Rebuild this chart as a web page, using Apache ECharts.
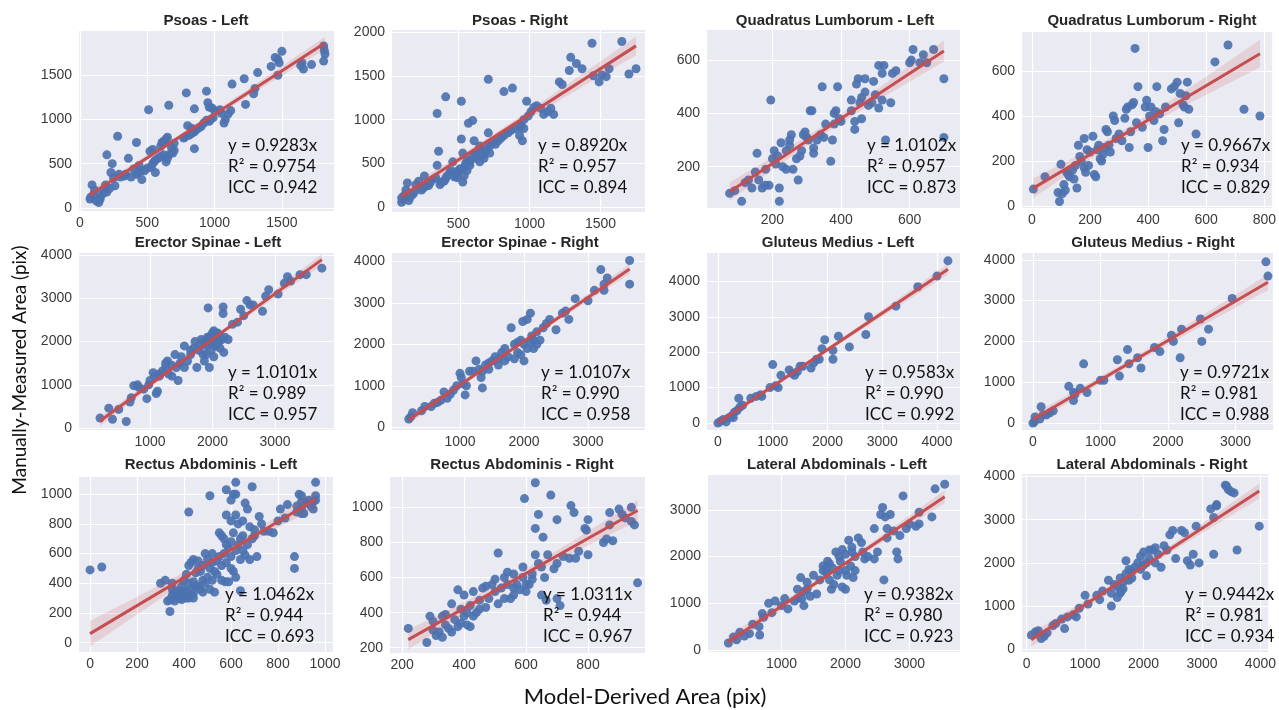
<!DOCTYPE html>
<html>
<head>
<meta charset="utf-8">
<script src="https://cdn.jsdelivr.net/npm/echarts@6/dist/echarts.min.js"></script>
<style>html,body{margin:0;padding:0;background:#fff;}#c{width:1279px;height:710px;}</style>
</head>
<body>
<div id="c"></div>
<script>
// ---------- titles and annotation text ----------
const panelTitles = ['Psoas - Left','Psoas - Right','Quadratus Lumborum - Left','Quadratus Lumborum - Right',
  'Erector Spinae - Left','Erector Spinae - Right','Gluteus Medius - Left','Gluteus Medius - Right',
  'Rectus Abdominis - Left','Rectus Abdominis - Right','Lateral Abdominals - Left','Lateral Abdominals - Right'];
const slopeTexts = ['y = 0.9283x','y = 0.8920x','y = 1.0102x','y = 0.9667x','y = 1.0101x','y = 1.0107x',
  'y = 0.9583x','y = 0.9721x','y = 1.0462x','y = 1.0311x','y = 0.9382x','y = 0.9442x'];
const r2Texts = ['R² = 0.9754','R² = 0.957','R² = 0.957','R² = 0.934','R² = 0.989','R² = 0.990',
  'R² = 0.990','R² = 0.981','R² = 0.944','R² = 0.944','R² = 0.980','R² = 0.981'];
const iccTexts = ['ICC = 0.942','ICC = 0.894','ICC = 0.873','ICC = 0.829','ICC = 0.957','ICC = 0.958',
  'ICC = 0.992','ICC = 0.988','ICC = 0.693','ICC = 0.967','ICC = 0.923','ICC = 0.934'];
const xAxisTitle = 'Model-Derived Area (pix)';
const yAxisTitle = 'Manually-Measured Area (pix)';

// ---------- tick values ----------
const xTicks = [[0,500,1000,1500],[500,1000,1500],[200,400,600],[0,200,400,600,800],
  [1000,2000,3000],[1000,2000,3000],[0,1000,2000,3000,4000],[0,1000,2000,3000],
  [0,200,400,600,800,1000],[200,400,600,800],[1000,2000,3000],[0,1000,2000,3000,4000]];
const yTicks = [[0,500,1000,1500],[0,500,1000,1500,2000],[200,400,600],[0,200,400,600],
  [0,1000,2000,3000,4000],[0,1000,2000,3000,4000],[0,1000,2000,3000,4000],[0,1000,2000,3000,4000],
  [0,200,400,600,800,1000],[200,400,600,800,1000],[0,1000,2000,3000],[0,1000,2000,3000,4000]];
const xLimits = [[-7,1887],[32,1813],[9,747],[-34,827],[-136,3944],[-62,3890],[-200,4420],[-163,3555],
  [-47,1034],[161,984],[-148,3789],[-79,4133]];
const yLimits = [[-35,2000],[-51,2021],[45,713],[-9,773],[-46,4051],[-65,4200],[-198,4802],[-170,4166],
  [-63,1116],[170,1173],[-43,3747],[-62,4058]];

// ---------- data (model-derived, manually-measured) ----------
const psoasLeft = [[1810,1830],[1815,1780],[1820,1740],[1810,1660],[1720,1620],[1650,1640],[1660,1570],[1640,1610],
 [1500,1770],[1470,1680],[1450,1700],[1480,1640],[1470,1500],[1420,1600],[1320,1530],[1300,1350],[1290,1290],
 [1220,1460],[1230,1170],[1130,1400],[1120,1100],[1100,1060],[1080,1000],[1070,960],[1050,1070],[1040,1110],
 [1000,1100],[980,1130],[960,1140],[950,1190],[940,1320],[990,1020],[970,1000],[960,980],[940,990],[920,960],
 [900,920],[880,900],[860,880],[850,860],[830,840],[810,820],[800,930],[790,1300],[850,1120],[850,670],[830,900],
 [780,800],[770,790],[700,730],[680,680],[660,1160],[650,800],[640,780],[630,760],[620,750],[610,740],[600,700],
 [700,650],[690,620],[660,600],[650,560],[640,520],[620,600],[600,580],[580,560],[560,540],[550,520],[540,500],
 [540,660],[520,640],[510,1110],[560,400],[530,460],[500,450],[480,420],[460,320],[450,420],[440,480],[430,400],
 [420,380],[420,740],[400,440],[380,350],[360,560],[340,380],[330,360],[300,350],[290,380],[280,810],[260,250],
 [250,340],[240,500],[230,400],[220,220],[200,600],[200,180],[190,260],[180,190],[170,160],[150,100],[140,60],
 [120,80],[110,200],[100,150],[90,260],[80,120],[75,100],[150,120]];
const psoasRight = [[1650,1890],[1440,1870],[1290,1710],[1330,1640],[1280,1560],[1370,1580],[1210,1430],[1230,1400],
 [1450,1500],[1490,1430],[1510,1510],[1540,1490],[1560,1580],[1700,1520],[1750,1580],[710,1460],[820,1320],
 [880,1360],[410,1260],[350,1070],[520,1210],[570,960],[600,990],[980,1210],[1050,1160],[1080,1130],[1100,1060],
 [1130,1090],[1150,1130],[1170,1060],[1030,1140],[1010,1090],[990,1040],[960,1000],[940,940],[930,920],[960,900],
 [930,820],[950,760],[900,900],[870,880],[850,850],[820,820],[800,790],[780,760],[760,720],[740,740],[720,700],
 [710,850],[700,670],[690,640],[670,600],[650,700],[640,650],[620,620],[610,760],[600,580],[580,520],[560,540],
 [550,500],[540,460],[530,620],[520,780],[510,440],[500,420],[490,400],[480,380],[470,350],[460,520],[450,420],
 [440,400],[420,360],[410,330],[400,300],[380,290],[370,260],[360,640],[350,480],[340,340],[320,320],[300,280],
 [290,250],[270,240],[260,360],[250,220],[240,200],[220,300],[200,260],[190,180],[180,150],[160,120],[150,80],
 [140,280],[130,200],[120,140],[110,100],[100,60],[100,110],[530,290],[540,360],[560,420],[490,340],[580,480],
 [620,560],[680,560],[720,620],[650,520]];
const qlLeft = [[75,100],[90,110],[110,70],[120,140],[130,150],[140,120],[150,180],[155,250],[160,150],[170,120],
 [180,130],[180,190],[190,130],[195,450],[200,230],[205,260],[210,210],[215,240],[220,120],[220,70],[225,290],
 [230,200],[240,190],[240,260],[250,280],[250,300],[255,320],[260,190],[270,230],[275,150],[280,240],[285,260],
 [290,320],[295,330],[300,310],[305,300],[310,410],[315,410],[320,250],[320,270],[330,300],[340,320],[345,500],
 [350,310],[355,360],[370,220],[375,300],[380,360],[380,400],[385,410],[390,500],[395,380],[400,370],[430,450],
 [430,410],[440,340],[440,370],[445,510],[450,530],[455,440],[460,380],[460,460],[470,480],[470,530],[480,430],
 [490,440],[495,520],[500,470],[510,420],[510,580],[520,450],[520,550],[525,580],[530,300],[545,440],[550,550],
 [560,560],[605,600],[610,640],[630,590],[640,620],[650,590],[670,640],[700,530],[700,310],[600,590]];
const qlRight = [[5,75],[45,130],[90,60],[95,20],[100,185],[105,55],[110,95],[115,70],[120,150],[125,140],[130,130],
 [140,160],[145,120],[150,180],[155,80],[160,270],[165,220],[170,200],[180,170],[180,300],[185,150],[190,250],
 [195,180],[200,240],[210,310],[215,140],[220,130],[225,250],[230,270],[235,210],[240,200],[245,230],[250,260],
 [255,340],[260,330],[265,270],[270,240],[280,400],[285,380],[290,300],[300,320],[310,290],[320,390],[325,430],
 [330,440],[335,260],[340,330],[345,450],[350,460],[355,700],[360,370],[365,530],[380,350],[390,440],[395,470],
 [400,260],[405,400],[410,440],[420,380],[425,420],[430,530],[440,410],[450,290],[455,340],[460,440],[480,520],
 [490,530],[500,550],[505,370],[510,500],[520,450],[525,440],[530,490],[535,550],[540,430],[565,320],[630,640],
 [675,715],[730,430],[785,400]];
const esLeft = [[200,230],[340,460],[400,200],[500,430],[620,150],[680,600],[700,700],[740,980],[800,1000],[820,940],
 [950,680],[980,1000],[1000,1100],[1050,1280],[1080,1200],[1100,800],[1120,850],[1150,1250],[1200,1320],[1250,1500],
 [1280,1550],[1300,1250],[1350,1200],[1400,1700],[1420,1400],[1450,1100],[1480,1500],[1500,1650],[1550,1900],
 [1550,1400],[1600,1550],[1650,1700],[1700,1850],[1720,2000],[1750,1400],[1780,1800],[1800,1900],[1820,2050],
 [1850,1700],[1870,1550],[1900,1900],[1920,2100],[1930,2780],[1950,1400],[1960,2000],[1980,1800],[2000,2200],
 [2020,1650],[2050,1900],[2060,2100],[2080,2200],[2100,2000],[2120,1850],[2150,2050],[2170,2800],[2170,2650],
 [2180,1750],[2200,2100],[2250,2050],[2320,2400],[2400,2450],[2450,2750],[2500,2600],[2550,2950],[2600,2850],
 [2650,2850],[2800,2700],[2850,3050],[2900,3200],[3050,3100],[3150,3350],[3200,3500],[3250,3400],[3400,3550],
 [3500,3550],[3750,3700],[1900,1700],[1880,1950],[2000,1950],[2050,2200],[1950,2100],[1850,2000],[2100,2150],
 [1650,1800],[1350,1450],[1250,1400],[1150,1200],[900,900],[2020,2250],[2080,1950],[1980,2150]];
const esRight = [[200,200],[230,250],[260,350],[400,400],[450,500],[550,500],[650,600],[750,850],[800,700],[850,800],
 [900,900],[950,1000],[1000,1300],[1020,1200],[1050,1050],[1080,780],[1100,1000],[1200,1350],[1250,1600],[1300,1400],
 [1330,1200],[1350,950],[1400,1500],[1450,1400],[1500,1600],[1550,1700],[1600,1650],[1650,1800],[1700,1900],
 [1750,1700],[1800,2400],[1850,2000],[1900,1800],[1950,2100],[1980,2550],[2000,1600],[2050,2600],[2100,2750],
 [2120,2200],[2150,1900],[2200,2300],[2250,2100],[2300,2400],[2350,2500],[2400,2600],[2600,2750],[2650,2800],
 [2700,2600],[2800,3100],[3100,3300],[3000,3050],[3200,3800],[3250,3450],[3300,3600],[3650,4020],[3650,3450],
 [3250,3300],[2500,2350],[2000,2000],[2050,1900],[2100,2050],[1900,2050],[1850,1650],[1700,1600],[1600,1500],
 [1450,1550],[1350,1350],[1150,1350],[700,650],[600,580],[2150,2100],[1950,1750],[2200,2000]];
const gmLeft = [[0,0],[50,50],[100,100],[150,30],[200,150],[250,200],[280,150],[300,300],[350,350],[380,700],[400,450],
 [450,500],[600,700],[700,750],[780,800],[800,750],[950,1000],[1000,1650],[1050,1050],[1100,1000],[1150,1350],
 [1300,1500],[1350,1400],[1400,1350],[1450,1450],[1500,1600],[1700,1550],[1750,1700],[1800,1800],[1900,2100],
 [1950,2350],[2100,2050],[2100,1800],[2200,2450],[2400,2150],[2700,2500],[2750,3000],[3250,3300],[3650,3850],
 [4000,4150],[4200,4580],[1850,1800],[1550,1600]];
const gmRight = [[0,0],[20,30],[30,150],[100,100],[120,400],[150,200],[200,200],[250,250],[300,300],[530,900],[600,550],
 [600,750],[620,700],[700,850],[750,1450],[800,750],[1000,1050],[1050,1050],[1250,1550],[1280,1150],[1400,1800],
 [1420,1450],[1550,1600],[1600,1350],[1800,1850],[1880,1750],[2050,2150],[2080,2000],[2180,1600],[2200,2300],
 [2480,2550],[2500,2000],[2600,2300],[2950,3050],[3450,3950],[3480,3600]];
const raLeft = [[0,490],[50,510],[420,880],[510,990],[580,1030],[620,1080],[690,1050],[960,1080],[300,400],[320,420],
 [330,280],[340,210],[350,360],[360,300],[370,320],[380,340],[390,380],[400,350],[400,420],[410,460],[410,300],
 [420,520],[420,400],[430,320],[430,540],[440,560],[440,300],[450,470],[450,380],[460,500],[460,550],[470,480],
 [470,360],[480,420],[480,520],[490,600],[490,400],[500,440],[500,560],[510,360],[510,500],[520,540],[520,600],
 [530,340],[530,480],[540,550],[540,460],[550,580],[550,740],[560,520],[560,420],[570,600],[570,700],[575,410],
 [580,860],[580,660],[580,540],[590,640],[590,410],[600,680],[600,580],[600,500],[600,960],[610,740],[610,1000],
 [610,480],[620,860],[620,440],[620,620],[620,1000],[630,800],[630,660],[640,700],[640,560],[640,350],[650,620],
 [650,720],[660,590],[660,940],[670,660],[670,900],[680,560],[680,780],[690,700],[700,720],[710,580],[720,850],
 [730,800],[740,750],[760,750],[780,740],[800,820],[810,900],[830,840],[840,930],[870,500],[870,580],[880,880],
 [890,1000],[900,990],[900,900],[910,870],[920,940],[950,950],[950,900],[960,960],[600,820],[560,720],[650,820],
 [700,760],[520,420],[480,340],[440,410],[390,320],[360,340],[460,380],[340,290],[350,320],[360,280],[370,350],
 [380,300],[390,290],[400,310],[410,340],[420,300],[430,360],[350,400],[440,330],[880,920],[900,950],[940,920],
 [930,960],[900,870],[960,990]];
const raRight = [[220,310],[280,230],[290,380],[300,350],[300,300],[310,270],[320,290],[330,260],[340,390],[340,330],
 [350,310],[360,450],[360,290],[370,360],[380,530],[380,320],[390,420],[390,340],[400,500],[400,380],[410,330],
 [420,440],[420,320],[430,520],[430,380],[440,400],[450,470],[460,540],[470,430],[480,480],[490,560],[500,520],
 [500,590],[510,450],[510,740],[520,540],[530,600],[530,480],[540,630],[540,560],[550,480],[560,500],[570,560],
 [580,530],[590,660],[590,600],[595,1050],[600,520],[610,560],[620,620],[620,590],[630,1140],[630,880],[630,730],
 [640,960],[640,680],[650,660],[650,500],[655,830],[660,600],[665,470],[670,730],[680,1070],[690,650],[700,930],
 [700,680],[700,480],[710,440],[720,720],[740,710],[745,1010],[755,970],[760,710],[770,750],[790,880],[795,870],
 [800,730],[800,930],[850,800],[860,820],[870,970],[870,900],[880,810],[900,990],[910,960],[920,940],[940,1000],
 [940,920],[950,900],[960,570],[470,550],[560,620],[450,420],[410,400],[330,380],[560,540],[600,560]];
const laLeft = [[170,150],[250,280],[300,220],[350,380],[420,300],[500,350],[550,550],[650,500],[660,320],[700,780],
 [720,700],[800,1000],[850,800],[900,1050],[1000,950],[1050,1100],[1100,880],[1200,1050],[1250,1300],[1300,1550],
 [1320,1100],[1350,950],[1350,1250],[1400,1450],[1450,1150],[1500,1600],[1550,1200],[1600,1500],[1650,1800],
 [1700,1650],[1720,1900],[1750,1500],[1780,1300],[1800,1750],[1820,1400],[1850,2100],[1870,1600],[1900,1700],
 [1920,1900],[1950,2150],[1950,1350],[2000,2050],[2000,1300],[2020,1600],[2050,2350],[2080,1800],[2100,2200],
 [2120,1550],[2150,2000],[2200,2400],[2250,2300],[2270,2100],[2300,1950],[2350,2000],[2450,1950],[2500,2100],
 [2580,3050],[2600,1500],[2620,2850],[2650,2600],[2650,2400],[2700,2900],[2750,2550],[2800,2100],[2820,1950],
 [2850,2450],[2900,3300],[2950,2600],[3000,2700],[3100,2650],[3150,2950],[3350,2850],[3400,3450],[3550,3550],
 [3150,2700],[1650,1700],[1750,1850],[1900,2000],[2000,1700],[2100,2100],[2150,1700],[1700,1750],[2450,2600],
 [2550,2900],[1400,1300],[1250,1100]];
const laRight = [[80,330],[150,400],[200,430],[250,250],[300,300],[350,380],[450,550],[500,600],[600,700],[650,480],
 [700,750],[800,800],[850,750],[900,950],[1000,1250],[1050,1050],[1200,1250],[1250,1150],[1300,1350],[1400,1600],
 [1450,1000],[1450,1300],[1500,1500],[1550,1200],[1600,1650],[1620,1350],[1650,1550],[1700,1750],[1700,2050],
 [1750,1600],[1800,1800],[1850,1900],[1900,2000],[1950,1850],[2000,2250],[2050,1700],[2100,2100],[2150,2300],
 [2200,2000],[2250,2200],[2300,1900],[2350,2400],[2400,2300],[2450,2650],[2500,2750],[2550,2100],[2650,2750],
 [2700,2700],[2750,2050],[2800,1950],[2850,2200],[2900,2850],[2950,2000],[3150,3250],[3200,3050],[3200,2200],
 [3250,3350],[3400,3800],[3450,3700],[3500,3650],[3600,2300],[3980,2850],[1750,1850],[1800,1650],[1650,1400],
 [1950,2150],[2000,1950],[2100,2300],[2200,2350],[1550,1450],[1600,1300],[2050,2000],[3420,3780],[3550,3620],
 [3250,3320]];

const panelData = [psoasLeft, psoasRight, qlLeft, qlRight, esLeft, esRight, gmLeft, gmRight, raLeft, raRight, laLeft, laRight];

// ---------- layout (pixels) ----------
const gridRects = [
 [79,31,255,180],[392,30,253,182],[707,30,253,178],[1022,32,251,176],
 [79,253,255,177],[392,253,253,177],[707,253,253,177],[1022,253,251,177],
 [79,477,254,175],[390,477,255,176],[708,475,252,177],[1022,474,251,178]];
const titleCenters = [[206,21],[520,21],[835,21],[1152,21],[208,243],[520,243],[838,243],[1153,243],
 [211,465],[522,465],[837,465],[1152,465]];
const annotPos = [[228,147],[538,147],[867,147],[1181,147],[228,374],[541,374],[865,374],[1180,374],
 [225,596],[543,596],[864,596],[1185,596]];

// ---------- regression (OLS with intercept, 95% CI) ----------
function fit(pts){
  const n = pts.length;
  let mx=0,my=0; pts.forEach(p=>{mx+=p[0];my+=p[1];}); mx/=n; my/=n;
  let sxx=0,sxy=0; pts.forEach(p=>{sxx+=(p[0]-mx)*(p[0]-mx); sxy+=(p[0]-mx)*(p[1]-my);});
  const b=sxy/sxx, a=my-b*mx;
  let sse=0; pts.forEach(p=>{const r=p[1]-(a+b*p[0]); sse+=r*r;});
  const s2=sse/(n-2);
  const xs=pts.map(p=>p[0]); const x0=Math.min(...xs), x1=Math.max(...xs);
  const upper=[], lower=[];
  const steps=40;
  for(let k=0;k<=steps;k++){
    const x=x0+(x1-x0)*k/steps;
    const h=1.97*Math.sqrt(s2*(1/n+(x-mx)*(x-mx)/sxx));
    upper.push([x,a+b*x+h]); lower.push([x,a+b*x-h]);
  }
  return {line:[[x0,a+b*x0],[x1,a+b*x1]], upper, lower};
}

const grid=[], xAxis=[], yAxis=[], series=[], graphic=[];
const labelFont = {color:'#3a3a3a', fontSize:14, fontFamily:'Liberation Sans, Arial, sans-serif', formatter:v=>String(v)};
panelData.forEach((pts,i)=>{
  const r = gridRects[i];
  grid.push({left:r[0], top:r[1], width:r[2], height:r[3], show:true, backgroundColor:'#eaeaf2', borderWidth:0, containLabel:false});
  xAxis.push({gridIndex:i, type:'value', min:xLimits[i][0], max:xLimits[i][1],
    axisLine:{show:false}, axisTick:{show:false, customValues:xTicks[i]},
    axisLabel:Object.assign({customValues:xTicks[i], margin:5, showMinLabel:true, showMaxLabel:true}, labelFont),
    splitLine:{show:true, lineStyle:{color:'#ffffff', width:1.2}}});
  yAxis.push({gridIndex:i, type:'value', min:yLimits[i][0], max:yLimits[i][1],
    axisLine:{show:false}, axisTick:{show:false, customValues:yTicks[i]},
    axisLabel:Object.assign({customValues:yTicks[i], margin:7, showMinLabel:true, showMaxLabel:true}, labelFont),
    splitLine:{show:true, lineStyle:{color:'#ffffff', width:1.2}}});
  const f = fit(pts);
  series.push({type:'scatter', xAxisIndex:i, yAxisIndex:i, data:pts, symbolSize:9,
    itemStyle:{color:'#4c72b0', opacity:0.92}, z:2, silent:true});
  const band = f.upper.concat(f.lower.slice().reverse());
  series.push({type:'custom', xAxisIndex:i, yAxisIndex:i, data:[f.line[0]], z:3, silent:true,
    renderItem:(params, api)=>({type:'polygon', shape:{points:band.map(p=>api.coord(p))},
      style:{fill:'rgba(196,78,82,0.16)'}})});
  series.push({type:'line', xAxisIndex:i, yAxisIndex:i, data:f.line, symbol:'none', z:4, silent:true,
    lineStyle:{color:'#c44e52', width:3}});
  const tc = titleCenters[i];
  graphic.push({type:'text', x:tc[0], y:tc[1], z:100,
    style:{text:panelTitles[i], fontFamily:'Liberation Sans, Arial, sans-serif', fontWeight:'bold', fontSize:15,
      fill:'#262626', textAlign:'center', textVerticalAlign:'middle'}});
  const ap = annotPos[i];
  [slopeTexts[i], r2Texts[i], iccTexts[i]].forEach((t,j)=>{
    graphic.push({type:'text', left:ap[0], top:ap[1]-10+j*21, z:100,
      style:{text:t, fontFamily:'Lato, sans-serif', fontSize:17, fill:'#111'}});
  });
});
graphic.push({type:'text', x:645, y:697, z:100,
  style:{text:xAxisTitle, fontFamily:'Lato, sans-serif', fontSize:22, fill:'#111', textAlign:'center', textVerticalAlign:'middle'}});
graphic.push({type:'text', x:20, y:370, rotation:Math.PI/2, z:100,
  style:{text:yAxisTitle, fontFamily:'Lato, sans-serif', fontSize:19, fill:'#111', textAlign:'center', textVerticalAlign:'middle'}});

const chart = echarts.init(document.getElementById('c'));
chart.setOption({animation:false, backgroundColor:'#ffffff', grid, xAxis, yAxis, series, graphic});
</script>
</body>
</html>
